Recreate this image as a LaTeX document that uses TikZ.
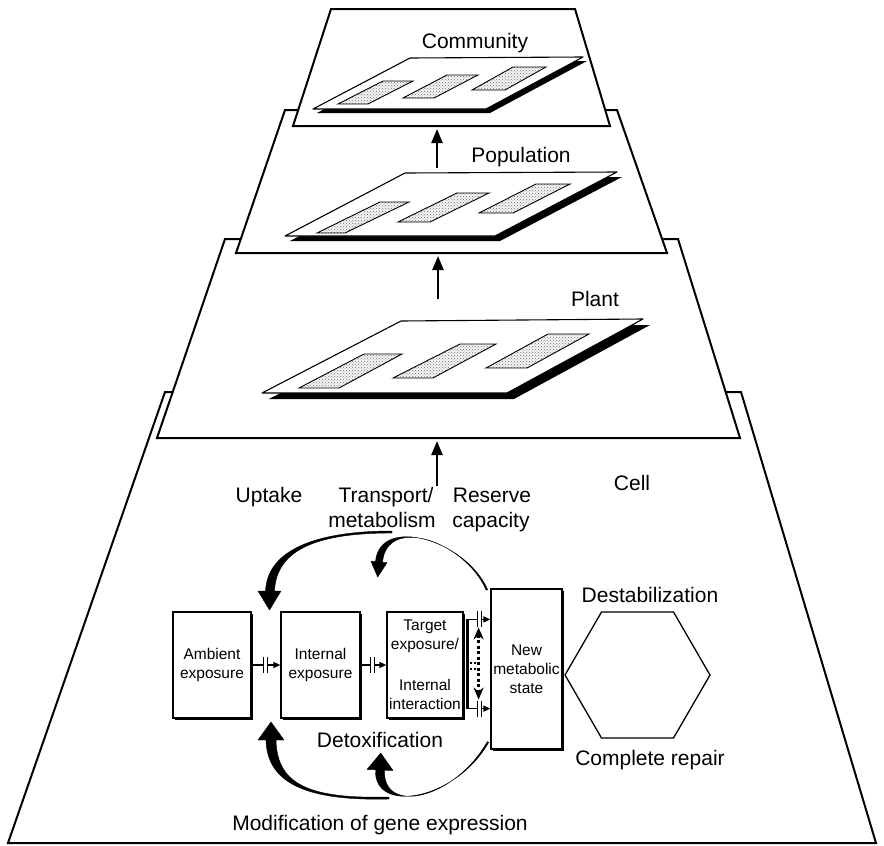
\documentclass[tikz,border=0pt]{standalone}
\usepackage{fontspec}
\setmainfont{Liberation Sans}
\usetikzlibrary{arrows.meta,calc,patterns,shadows}

\begin{document}
\begin{tikzpicture}[x=1pt,y=-1pt,
  tier/.style={draw=black,fill=white,line width=2pt,line join=miter},
  plate/.style={draw=black,fill=white,line width=1.1pt,line join=round},
  plateshadow/.style={fill=black},
  stipple/.style={fill=gray!8,postaction={pattern=crosshatch dots,pattern color=black!55},
                  postaction={draw=black,line width=0.9pt}},
  lbl/.style={font=\fontsize{21}{24}\selectfont,inner sep=0pt,anchor=base},
  cellbox/.style={draw=black,fill=white,line width=1.2pt,inner sep=1pt,align=center,
                  font=\fontsize{15.5}{19}\selectfont,
                  drop shadow={shadow xshift=2pt,shadow yshift=-2pt,fill=black,opacity=1}},
  levelarrow/.style={line width=2.5pt,-{Triangle[length=14pt,width=11pt]}},
  link/.style={line width=1.4pt},
  linkarrow/.style={line width=1.4pt,-{Triangle[length=7pt,width=6pt]}},
  swoosh/.style={fill=black,draw=black,line width=0.4pt,line join=round},
  capacitor/.pic={\draw[line width=1.4pt] (0,-8) -- (0,8) (4,-8) -- (4,8);},
]
\useasboundingbox (0,0) rectangle (884,846);

% ---------------- Cell level ----------------
\path[tier] (165,392) coordinate (cellTL) -- (741,392) coordinate (cellTR)
  -- (876,843) coordinate (cellBR) -- (8,843) coordinate (cellBL) -- cycle;

\node[lbl] (cellname) at (632,490) {Cell};
\node[lbl] (uptake) at (269,502) {Uptake};
\node[lbl] (transport) at (386,502) {Transport/};
\node[lbl] (metab) at (382,527) {metabolism};
\node[lbl] (reserve) at (492,502) {Reserve};
\node[lbl] (capacity) at (491,527) {capacity};
\node[lbl] (destab) at (650,602) {Destabilization};
\node[lbl] (repair) at (650,765) {Complete repair};
\node[lbl] (detox) at (380,747) {Detoxification};
\node[lbl] (genes) at (380,830) {Modification of gene expression};

% exposure chain
\node[cellbox,minimum width=78pt,minimum height=106pt] (ambient) at (212,665) {Ambient\\exposure};
\node[cellbox,minimum width=79pt,minimum height=106pt] (internal) at (320.5,665) {Internal\\exposure};
\node[cellbox,minimum width=76pt,minimum height=106pt] (target) at (425,665)
  {Target\\exposure/\\[22pt]Internal\\interaction};
\node[cellbox,minimum width=71pt,minimum height=160pt] (newstate) at (526.5,669) {New\\metabolic\\state};

% outcome hexagon
\draw[line width=1.3pt,line join=miter] (565,675) coordinate (hexL) -- (601.5,612) -- (673.5,612)
  -- (710,675) coordinate (hexR) -- (673.5,738) -- (601.5,738) -- cycle;

% gated links
\draw[link] (ambient.east) -- ++(12,0) coordinate (ai1);
\pic at (ai1) {capacitor};
\draw[linkarrow] (ai1) ++(4,0) -- (internal.west);

\draw[link] (internal.east) -- ++(10,0) coordinate (it1);
\pic at (it1) {capacitor};
\draw[linkarrow] (it1) ++(4,0) -- (target.west);

\path (target.north east) ++(4,8) coordinate (brTop);
\path (target.south east) ++(4,-10) coordinate (brBot);
\draw[line width=2.8pt] (brTop) -- (brBot);
\draw[link] (brTop) -- ++(10,0) coordinate (tc1);
\pic at (tc1) {capacitor};
\draw[linkarrow] (tc1) ++(4,0) -- (brTop -| newstate.west);
\draw[link] (brBot) -- ++(10,0) coordinate (tc2);
\pic at (tc2) {capacitor};
\draw[linkarrow] (tc2) ++(4,0) -- (brBot -| newstate.west);

% reversible interaction
\coordinate (dTop) at ($(brTop)+(11,8)$);
\coordinate (dBot) at ($(brBot)+(11,-9)$);
\draw[line width=2.6pt,dash pattern=on 3pt off 2.5pt,
  {Stealth[length=12pt,width=10pt]}-{Stealth[length=12pt,width=10pt]}] (dTop) -- (dBot);
\draw[line width=1.6pt,dash pattern=on 2pt off 1.5pt] (470,663) -- (476,663) (470,669) -- (476,669);

% feedback swooshes
\fill[swoosh] (392,531) .. controls (320,531) and (267.5,548) .. (265.5,591)
  -- (258,591) -- (269.5,610) -- (281,591) -- (274.5,591)
  .. controls (276.5,548) and (320,533) .. (392,533) -- cycle;
\fill[swoosh] (487.7,589.7) .. controls (465.7,539.7) and (379.5,514.7) .. (375.5,561.7)
  -- (371,561.3) -- (377.7,577) -- (387,562.7) -- (382.5,562.3)
  .. controls (386.5,515.3) and (464.3,540.3) .. (486.3,590.3) -- cycle;
\fill[swoosh] (389,797) .. controls (310,799) and (277,785) .. (276,740)
  -- (284,740) -- (271,722) -- (258,740) -- (266,740)
  .. controls (267,785) and (310,801) .. (389,799) -- cycle;
\fill[swoosh] (487.35,741.63) .. controls (454.35,799.63) and (382.5,815.2) .. (384.5,770.2)
  -- (393,770.5) -- (380.7,753) -- (367,769.5) -- (375.5,769.8)
  .. controls (373.5,814.8) and (455.65,800.37) .. (488.65,742.37) -- cycle;

% ---------------- Plant level ----------------
\path[tier] (225,239) coordinate (plantTL) -- (678,239) -- (740,438) -- (157,438) -- cycle;
\node[lbl] (plantname) at (595,306) {Plant};
\begin{scope}[shift={(7,6)}]
  \fill[plateshadow] (401,321) -- (643,319) -- (507,393) -- (262,393) -- cycle;
\end{scope}
\draw[plate] (401,321) -- (643,319) -- (507,393) -- (262,393) -- cycle;
\path[stipple] (299,388) -- (339,388) -- (402,354) -- (364,354) -- cycle;
\path[stipple] (393,378) -- (433,378) -- (496,344) -- (460,344) -- cycle;
\path[stipple] (486,368) -- (527,368) -- (589,334) -- (548,334) -- cycle;

\coordinate (cellTail) at (437,486);
\coordinate (plantFoot) at (437,441);
\draw[levelarrow] (cellTail) -- (plantFoot);

% ---------------- Population level ----------------
\path[tier] (285,110) -- (617,110) -- (667,253) -- (236,253) -- cycle;
\node[lbl] (popname) at (521,162) {Population};
\begin{scope}[shift={(5,5)}]
  \fill[plateshadow] (405,173) -- (617,172) -- (495,236) -- (285,236) -- cycle;
\end{scope}
\draw[plate] (405,173) -- (617,172) -- (495,236) -- (285,236) -- cycle;
\path[stipple] (317,233) -- (345,233) -- (409,202) -- (380,202) -- cycle;
\path[stipple] (398,222) -- (430,222) -- (489,193) -- (457,193) -- cycle;
\path[stipple] (479,213) -- (513,213) -- (570,184) -- (536,184) -- cycle;

\coordinate (plantTail) at (438,299);
\coordinate (popFoot) at (438,256);
\draw[levelarrow] (plantTail) -- (popFoot);

% ---------------- Community level ----------------
\path[tier] (331,9) -- (575,9) -- (610,126) -- (293,126) -- cycle;
\node[lbl] (commname) at (475,48) {Community};
\begin{scope}[shift={(4,4)}]
  \fill[plateshadow] (410,58) -- (583,57) -- (486,109) -- (313,109) -- cycle;
\end{scope}
\draw[plate] (410,58) -- (583,57) -- (486,109) -- (313,109) -- cycle;
\path[stipple] (338,104) -- (368,104) -- (413,81) -- (383,81) -- cycle;
\path[stipple] (403,98) -- (434,98) -- (478,75) -- (447,75) -- cycle;
\path[stipple] (472,90) -- (505,90) -- (546,67) -- (513,67) -- cycle;

\coordinate (popTail) at (437,168);
\coordinate (commFoot) at (437,129);
\draw[levelarrow] (popTail) -- (commFoot);

\end{tikzpicture}
\end{document}
